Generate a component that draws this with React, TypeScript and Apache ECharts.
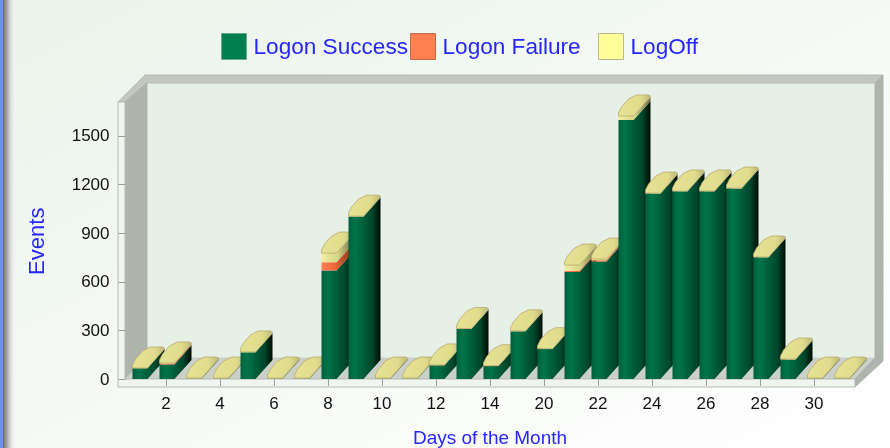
import React, { useEffect, useRef } from "react";
import * as echarts from "echarts";

const days = ["1","2","3","4","5","6","7","8","9","10","11","12","13","14","19","20","21","22","23","24","25","26","27","28","29","30","31"];
const logonSuccess = [66,90,3,3,165,3,3,670,1003,3,3,85,310,80,295,185,660,725,1598,1145,1158,1158,1176,751,121,3,3];
const logonFailure = [0,6,0,0,0,0,0,50,0,0,0,0,0,0,0,0,8,8,0,0,0,0,0,0,0,0,0];
const logOff = [2,3,3,3,2,3,3,57,2,3,3,2,2,2,2,2,35,7,25,2,2,2,2,2,2,3,3];
const yTicks = [0,300,600,900,1200,1500];
const FONT = "'Liberation Sans', Arial, sans-serif";
const BLUE = "#2626ff";

const grad = (stops: [number,string][]) =>
  new echarts.graphic.LinearGradient(0,0,1,0,stops.map(([offset,color])=>({offset,color})));

const bodyGreen = () => grad([[0,"#00603f"],[0.2,"#007549"],[0.45,"#005f3c"],[0.75,"#00452c"],[0.9,"#002212"],[1,"#000d06"]]);
const bodyOrange = () => grad([[0,"#ff7f50"],[0.4,"#f0683c"],[1,"#803018"]]);
const bodyYellow = () => grad([[0,"#f3efa0"],[0.5,"#d8d488"],[1,"#6e6c40"]]);

function segment(kind: "g"|"o"|"y") {
  return (params: any, api: any) => {
    const i = api.value(0);
    const p0 = api.coord([i, api.value(2)]);
    const p1 = api.coord([i, api.value(1)]);
    const L = p0[0] - 6.5, M = L + 15, R = L + 32, y0 = p0[1], y1 = p1[1];
    const dy = 19;
    const children: any[] = [];
    if (y1 - y0 > 0.1) {
      const fill = kind === "g" ? bodyGreen() : kind === "o" ? bodyOrange() : bodyYellow();
      children.push({
        type: "polygon",
        z2: i * 10 + (kind === "g" ? 0 : kind === "o" ? 1 : 2),
        shape: { points: [[L,y0],[L,y1],[M,y1],[R,y1-dy],[R,y0-dy],[M,y0]] },
        style: { fill },
      });
    }
    if (kind === "y") {
      children.push({
        type: "polygon",
        z2: i * 10 + 5,
        shape: { points: [[L,y0],[M,y0],[R-1,y0-dy+1],[R,y0-dy-1],[R-2,y0-dy-2],[M+3,y0-dy-2],[L+10,y0-17],[L+3,y0-9],[L,y0-3]] },
        style: {
          fill: grad([[0,"#e6e294"],[0.7,"#e0dc8c"],[1,"#bcb878"]]),
          stroke: "#bda870",
          lineWidth: 0.8,
        },
      });
    }
    return { type: "group", children };
  };
}

function stacks() {
  const g: number[][] = [], o: number[][] = [], y: number[][] = [];
  days.forEach((_, i) => {
    const a = logonSuccess[i], b = a + logonFailure[i], c = b + logOff[i];
    g.push([i, 0, a]); o.push([i, a, b]); y.push([i, b, c]);
  });
  return { g, o, y };
}

export default function App() {
  const ref = useRef<HTMLDivElement>(null);
  useEffect(() => {
    document.body.style.margin = "0";
    const chart = echarts.init(ref.current!, undefined, { renderer: "svg" });
    const { g, o, y } = stacks();
    const wallC = "#aeb4ac";
    const edge = "#b6bbb2";
    const poly = (points: number[][], fill: string, stroke?: string) => ({
      type: "polygon", z: -1, shape: { points },
      style: { fill, stroke: stroke || fill, lineWidth: 1 },
    });
    const legendBase = {
      top: 33, orient: "horizontal", itemWidth: 25, itemHeight: 26, itemGap: 0, padding: 0,
      icon: "rect", selectedMode: false,
      textStyle: { fontFamily: FONT, fontSize: 22.6, color: BLUE, padding: [0,0,0,2] },
    };
    chart.setOption({
      animation: false,
      backgroundColor: new echarts.graphic.LinearGradient(0,0,1,1,[
        {offset:0,color:"#eaf3ea"},{offset:0.55,color:"#f6faf6"},{offset:1,color:"#ffffff"},
      ]),
      legend: [
        { ...legendBase, left: 221, data: [{ name: "Logon Success", itemStyle: { color: "#00804f", borderColor: "#6aa98c", borderWidth: 1 } }] },
        { ...legendBase, left: 410, data: [{ name: "Logon Failure", itemStyle: { color: "#ff7f50", borderColor: "#c86a48", borderWidth: 1 } }] },
        { ...legendBase, left: 598, data: [{ name: "LogOff", itemStyle: { color: "#ffff99", borderColor: "#b8b888", borderWidth: 1 } }] },
      ],
      grid: { left: 125.5, right: 890 - 854.5, top: 103.5, bottom: 448 - 379, containLabel: false, outerBoundsMode: "none" },
      xAxis: {
        type: "category", data: days, boundaryGap: true,
        name: "Days of the Month", nameLocation: "middle", nameGap: 49,
        nameTextStyle: { fontFamily: FONT, fontSize: 19, color: BLUE },
        axisLine: { show: false },
        axisTick: { show: true, alignWithLabel: true, length: 7, interval: (idx: number) => idx % 2 === 1, lineStyle: { color: "#9aa096" } },
        axisLabel: { fontFamily: FONT, fontSize: 17, color: "#111111", margin: 16, interval: (idx: number) => idx % 2 === 1, hideOverlap: false },
        splitLine: { show: false },
      },
      yAxis: {
        type: "value", min: 0, max: 1700,
        name: "Events", nameLocation: "middle", nameGap: 78, nameRotate: 90,
        nameTextStyle: { fontFamily: FONT, fontSize: 22, color: BLUE },
        axisLine: { show: false },
        axisTick: { show: true, length: 7, customValues: yTicks, lineStyle: { color: "#9aa096" } },
        axisLabel: { fontFamily: FONT, fontSize: 17, color: "#111111", margin: 16, customValues: yTicks, formatter: (v: number) => String(v) },
        splitLine: { show: false },
      },
      graphic: { elements: [
        { type: "rect", z: -1, shape: { x: 0, y: 0, width: 3, height: 448 }, style: { fill: "#6f8cf0" } },
        { type: "rect", z: -1, shape: { x: 3, y: 0, width: 14, height: 448 }, style: {
          fill: new echarts.graphic.LinearGradient(0,0,1,0,[{offset:0,color:"#6a6a6a"},{offset:0.5,color:"#d4d4d4"},{offset:1,color:"rgba(255,255,255,0)"}]) } },
        poly([[147,83],[875,83],[875,358],[147,358]], "#e6f0e6"),
        poly([[118,102],[145,75],[883,75],[875,83],[147,83],[125,102]], "#c2c8bf", edge),
        poly([[125,102],[147,83],[147,358],[125,379]], wallC),
        poly([[147,358],[875,358],[855,379],[125,379]], "#cbd0c8"),
        poly([[875,83],[883,75],[883,361],[855,387],[855,379],[875,358]], wallC),
        poly([[118,102],[125,102],[125,379],[855,379],[855,387],[118,387]], "#f0f5ef", edge),
      ] },
      series: [
        { type: "custom", name: "Logon Success", renderItem: segment("g"), data: g, encode: { x: 0, y: [1,2] }, itemStyle: { color: "#00804f" } },
        { type: "custom", name: "Logon Failure", renderItem: segment("o"), data: o, encode: { x: 0, y: [1,2] }, itemStyle: { color: "#ff7f50" } },
        { type: "custom", name: "LogOff", renderItem: segment("y"), data: y, encode: { x: 0, y: [1,2] }, itemStyle: { color: "#ffff99" } },
      ],
    });
    return () => chart.dispose();
  }, []);
  return <div ref={ref} style={{ width: 890, height: 448, filter: "blur(0.4px)" }} />;
}
